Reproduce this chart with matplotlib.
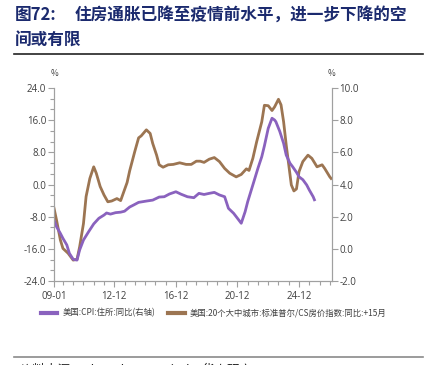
import matplotlib
matplotlib.use("Agg")
import matplotlib.pyplot as plt
import matplotlib.dates as mdates
from matplotlib.ticker import MultipleLocator, FixedLocator
import pandas as pd

plt.rcParams['font.family'] = ['Noto Sans CJK SC', 'DejaVu Sans']

# ---- data ----
cs_dates = ['2009-01', '2009-03', '2009-06', '2009-08', '2009-12', '2010-04', '2010-07',
            '2010-09', '2010-12', '2011-02', '2011-05', '2011-08', '2011-10', '2012-01',
            '2012-04', '2012-07', '2012-10', '2013-02', '2013-05', '2013-07', '2013-10',
            '2013-12', '2014-04', '2014-07', '2014-09', '2015-01', '2015-04', '2015-06',
            '2015-09', '2015-11', '2016-02', '2016-06', '2016-10', '2017-03', '2017-08',
            '2017-12', '2018-04', '2018-07', '2018-10', '2019-02', '2019-06', '2019-10',
            '2020-02', '2020-06', '2020-11', '2021-03', '2021-07', '2021-09', '2021-12',
            '2022-03', '2022-07', '2022-09', '2022-12', '2023-03', '2023-05', '2023-08',
            '2023-10', '2023-12', '2024-02', '2024-04', '2024-06', '2024-08', '2024-10',
            '2024-12', '2025-03', '2025-07', '2025-10', '2026-02', '2026-06', '2026-08',
            '2026-12', '2027-01']
cs_yoy = [-5.9, -8.8, -13.8, -15.9, -17.1, -18.8, -18.6,
          -15.5, -9.7, -3.0, 1.5, 4.4, 2.8, -0.5,
          -2.6, -4.3, -4.1, -3.5, -4.0, -2.2, 0.5,
          3.4, 8.2, 11.6, 12.1, 13.6, 12.7, 10.2,
          7.3, 4.9, 4.3, 4.9, 5.0, 5.4, 5.0,
          5.0, 5.8, 5.8, 5.5, 6.3, 6.7, 5.7,
          4.0, 2.8, 1.9, 2.5, 3.9, 3.5, 6.5,
          10.6, 15.6, 19.7, 19.6, 18.4, 19.3, 21.2,
          19.8, 15.6, 9.8, 4.9, -0.1, -1.6, -1.1,
          3.2, 5.7, 7.3, 6.5, 4.4, 4.9, 4.0,
          1.9, 1.5]

shelter_dates = ['2009-01', '2009-03', '2009-06', '2009-08', '2009-11', '2010-01', '2010-04',
                 '2010-07', '2010-09', '2010-12', '2011-04', '2011-08', '2011-12', '2012-04',
                 '2012-06', '2012-09', '2013-01', '2013-05', '2013-08', '2013-12', '2014-03',
                 '2014-07', '2015-01', '2015-06', '2015-11', '2016-03', '2016-07', '2016-12',
                 '2017-04', '2017-09', '2018-02', '2018-06', '2018-10', '2019-02', '2019-06',
                 '2019-10', '2020-02', '2020-05', '2020-09', '2020-12', '2021-03', '2021-06',
                 '2021-08', '2021-12', '2022-04', '2022-07', '2022-09', '2022-12', '2023-03',
                 '2023-05', '2023-06', '2023-09', '2023-12', '2024-02', '2024-05', '2024-07',
                 '2024-10', '2024-12', '2025-03', '2025-06', '2025-08', '2025-11', '2025-12']
shelter_yoy = [1.79, 1.38, 0.96, 0.65, 0.24, -0.28, -0.65,
               -0.70, -0.07, 0.55, 1.06, 1.55, 1.90, 2.10,
               2.23, 2.16, 2.25, 2.28, 2.34, 2.60, 2.72,
               2.89, 2.97, 3.03, 3.22, 3.24, 3.41, 3.55,
               3.40, 3.24, 3.18, 3.45, 3.38, 3.45, 3.51,
               3.35, 3.24, 2.52, 2.21, 1.90, 1.59, 2.31,
               2.93, 3.97, 5.01, 5.73, 6.40, 7.49, 8.12,
               8.01, 7.90, 7.30, 6.56, 5.83, 5.32, 5.11,
               4.76, 4.48, 4.30, 3.97, 3.66, 3.24, 3.05]

x_labels = ['09-01', '12-12', '16-12', '20-12', '24-12']
x_label_dates = ['2009-01', '2012-12', '2016-12', '2020-12', '2024-12']

purple = '#8A62BE'
brown = '#9C7552'
axis_grey = '#A0A0A0'
text_grey = '#404040'

fig = plt.figure(figsize=(4.29, 3.65), dpi=100)
ax = fig.add_axes([0.1259, 0.2301, 0.6473, 0.5288])
ax2 = ax.twinx()

ax.plot(pd.to_datetime(cs_dates), cs_yoy, color=brown, lw=2.0, zorder=3,
        label='美国:20个大中城市:标准普尔/CS房价指数:同比:+15月')
ax2.plot(pd.to_datetime(shelter_dates), shelter_yoy, color=purple, lw=2.0, zorder=2,
         label='美国:CPI:住所:同比(右轴)')

ax.set_xlim(pd.Timestamp('2009-01-01'), pd.Timestamp('2027-01-15'))
ax.set_ylim(-24, 24)
ax2.set_ylim(-2, 10)

ax.yaxis.set_major_locator(MultipleLocator(8))
ax.yaxis.set_minor_locator(MultipleLocator(8 / 3))
ax.yaxis.set_major_formatter(matplotlib.ticker.FormatStrFormatter('%.1f'))
ax2.yaxis.set_major_locator(MultipleLocator(2))
ax2.yaxis.set_major_formatter(matplotlib.ticker.FormatStrFormatter('%.1f'))

ax.xaxis.set_major_locator(FixedLocator(mdates.date2num(pd.to_datetime(x_label_dates))))
ax.set_xticklabels(x_labels)
minor = pd.date_range('2008-12-01', '2027-01-01', freq='8MS')
ax.xaxis.set_minor_locator(FixedLocator(mdates.date2num(minor)))

for a in (ax, ax2):
    a.spines['top'].set_visible(False)
    for s in ('left', 'right', 'bottom'):
        a.spines[s].set_color(axis_grey)
        a.spines[s].set_linewidth(0.8)
    a.tick_params(which='both', colors=axis_grey, labelcolor=text_grey,
                  labelsize=7, width=0.8, pad=1.5)
    a.tick_params(which='major', length=4)
    a.tick_params(which='minor', length=3)
ax.tick_params(axis='x', which='major', pad=3)
for lab in ax.get_xticklabels() + ax.get_yticklabels() + ax2.get_yticklabels():
    lab.set_family(['Open Sans', 'DejaVu Sans'])

fig.text(54 / 429, 1 - 73 / 365, '%', fontsize=6, color=text_grey, ha='center', va='center')
fig.text(331.7 / 429, 1 - 74 / 365, '%', fontsize=6, color=text_grey, ha='center', va='center')

# title
navy = '#1B2A6E'
fig.text(15 / 429, 1 - 15 / 365, '图72:', fontsize=12, fontweight='bold', color=navy,
         ha='left', va='center')
fig.text(75 / 429, 1 - 15 / 365, '住房通胀已降至疫情前水平，进一步下降的空', fontsize=12,
         fontweight='bold', color=navy, ha='left', va='center')
fig.text(15 / 429, 1 - 41 / 365, '间或有限', fontsize=12, fontweight='bold', color=navy,
         ha='left', va='center')
fig.add_artist(plt.Line2D([14 / 429, 423 / 429], [1 - 53.5 / 365] * 2, color='#222222', lw=1.2))
fig.add_artist(plt.Line2D([14 / 429, 423 / 429], [1 - 357 / 365] * 2, color='#8A8A8A', lw=1.2))
# source line, cut off by the bottom edge as in the reference
fig.text(20 / 429, 1 - 370 / 365, '资料来源：Bloomberg，Wind，华泰研究', fontsize=9,
         color='#222222', ha='left', va='center')

h1, l1 = ax2.get_legend_handles_labels()
h2, l2 = ax.get_legend_handles_labels()
leg = fig.legend(h1 + h2, l1 + l2, loc='center left', bbox_to_anchor=(33 / 429, 1 - 313 / 365),
                 ncol=2, frameon=False, fontsize=6, handlelength=2.0, handletextpad=0.6,
                 columnspacing=1.6)
for line in leg.get_lines():
    line.set_linewidth(3)
for t in leg.get_texts():
    t.set_color(text_grey)

fig.savefig('out.png', dpi=100)
